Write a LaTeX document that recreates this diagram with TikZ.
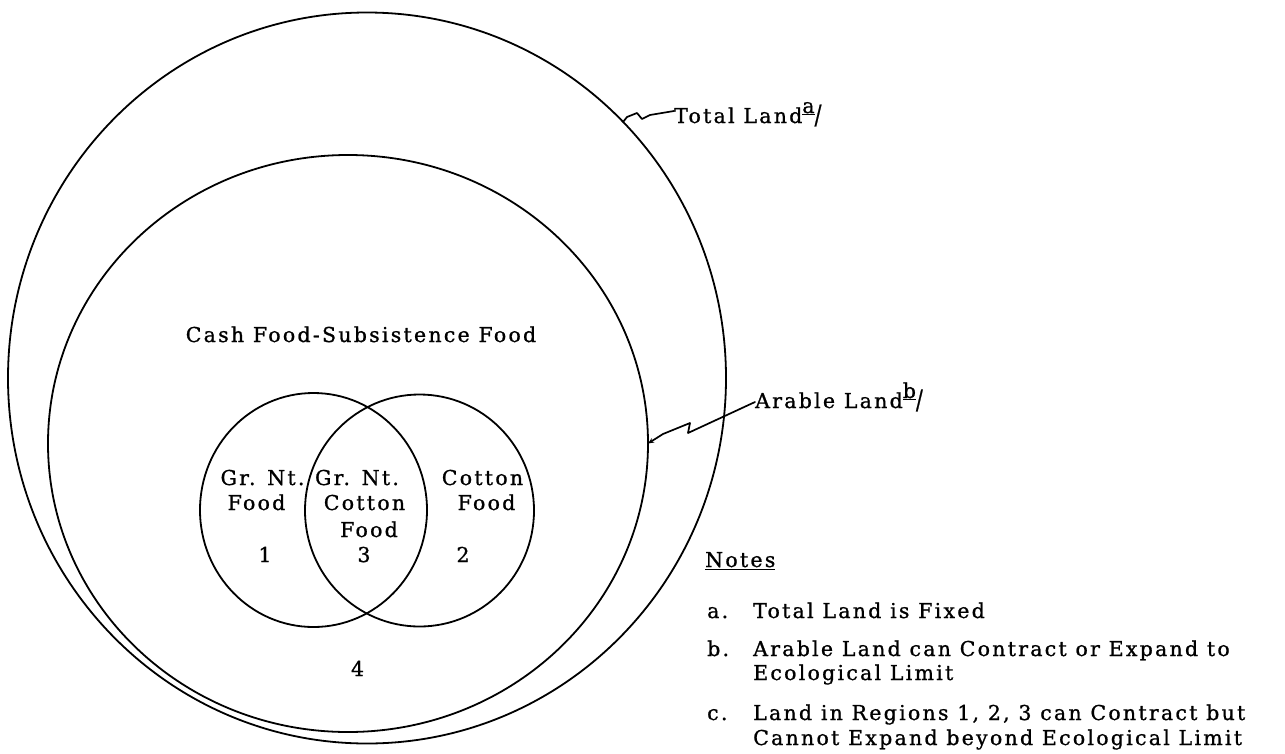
\documentclass[tikz,border=0pt]{standalone}
\usepackage{fontspec}
\setmainfont{DejaVu Serif}[LetterSpace=11,FakeBold=1]
\usetikzlibrary{shapes.geometric,arrows.meta}
\newcommand{\txt}{\fontsize{20.5}{24}\selectfont}
\newcommand{\fnmark}[1]{\raisebox{10pt}{\underline{#1}}\raisebox{-1pt}{\scalebox{1}[1.3]{/}}}
\begin{document}
\begin{tikzpicture}[x=1pt,y=-1pt,
  ring/.style={draw, ellipse, inner sep=0pt, outer sep=0pt, line width=1.8pt},
  lbl/.style={inner sep=0pt, anchor=base west, font=\txt},
  clbl/.style={inner sep=0pt, anchor=base, font=\txt},
  lead/.style={line width=1.7pt, line join=round, line cap=round}]
\useasboundingbox (0,0) rectangle (1285,753);

% land regions
\node[ring, minimum width=718pt, minimum height=731pt] (total) at (367,378) {};
\node[ring, minimum width=600pt, minimum height=577pt] (arable) at (348,443.5) {};
\node[ring, minimum width=227pt, minimum height=234pt] (gn) at (313.5,510) {};
\node[ring, minimum width=229pt, minimum height=232pt] (ct) at (419.5,510.5) {};

% region texts
\node[clbl] (cash) at (361,342) {Cash Food-Subsistence Food};
\node[clbl] (gnA) at (262.5,485) {Gr. Nt.};
\node[clbl] (gnB) at (256.5,510) {Food};
\node[clbl] (mA) at (357,485) {Gr. Nt.};
\node[clbl] (mB) at (364.5,510) {Cotton};
\node[clbl] (mC) at (369,537) {Food};
\node[clbl] (ctA) at (482.5,485) {Cotton};
\node[clbl] (ctB) at (486.5,510) {Food};
\node[clbl] (r1) at (265,562) {1};
\node[clbl] (r3) at (364,562) {3};
\node[clbl] (r2) at (463,562) {2};
\node[clbl] (r4) at (357.5,676) {4};

% outside labels
\node[lbl] (tl) at (674,123) {Total Land\fnmark{a}};
\node[lbl] (al) at (755,408) {Arable Land\fnmark{b}};

\draw[lead] (total.45) -- (627,117) -- (637,113) -- (642,119) -- (650,115) -- (tl.west |- 0,111);
\draw[lead, {Stealth[length=6pt,width=5pt]}-] (arable.east) -- (663,434) -- (690,423) -- (688,433) -- (al.west |- 0,402);

% notes
\node[lbl] (nh) at (705,567) {\underline{Notes}};
\node[lbl] (na) at (707,618) {a.};
\node[lbl] (na1) at (753,618) {Total Land is Fixed};
\node[lbl] (nb) at (707,656) {b.};
\node[lbl] (nb1) at (753,656) {Arable Land can Contract or Expand to};
\node[lbl] (nb2) at (753,680) {Ecological Limit};
\node[lbl] (nc) at (707,720) {c.};
\node[lbl] (nc1) at (753,720) {Land in Regions 1, 2, 3 can Contract but};
\node[lbl] (nc2) at (753,745) {Cannot Expand beyond Ecological Limit};
\end{tikzpicture}
\end{document}
